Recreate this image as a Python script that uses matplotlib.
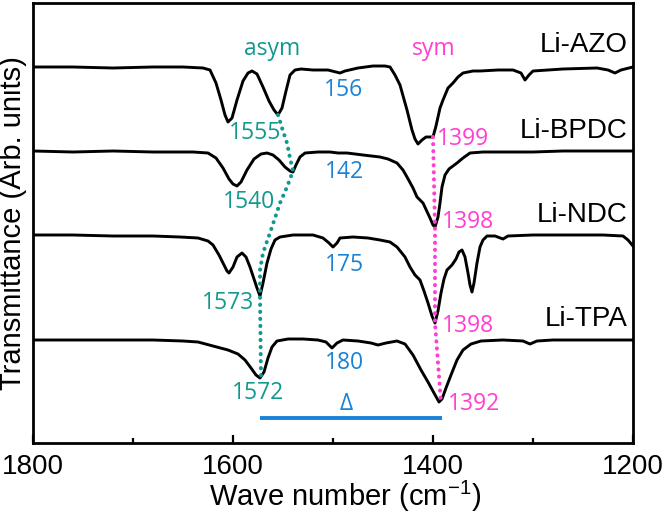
import numpy as np
import matplotlib
matplotlib.use("Agg")
import matplotlib.pyplot as plt
from matplotlib.ticker import FixedLocator

plt.rcParams["font.family"] = "Liberation Sans"
plt.rcParams["mathtext.fontset"] = "custom"
plt.rcParams["mathtext.rm"] = "Liberation Sans"
plt.rcParams["mathtext.default"] = "regular"

# --- spectra (wave number, transmittance in arb. units incl. offset) ---
wn_azo = [1800, 1760, 1720, 1680, 1650, 1630, 1623, 1617, 1612, 1608, 1605, 1601, 1596, 1590,
          1585, 1581, 1576, 1570, 1564, 1559, 1555, 1551, 1547, 1543, 1538, 1532, 1520, 1505,
          1497, 1493, 1488, 1475, 1460, 1448, 1443, 1438, 1433, 1426, 1421, 1418, 1415, 1411,
          1407, 1403, 1400, 1397, 1393, 1390, 1385, 1380, 1375, 1370, 1360, 1353, 1335, 1320,
          1312, 1308, 1304, 1300, 1270, 1236, 1225, 1218, 1212, 1200]
t_azo = [376, 376, 375, 376, 376, 375, 373, 360, 343, 328, 321, 325, 343, 362,
         370, 372, 369, 356, 342, 333, 328, 335, 352, 368, 373, 374, 373, 373,
         371, 370, 372, 375, 377, 377, 376, 368, 358, 333, 313, 304, 299, 303,
         306, 306, 306, 317, 335, 343, 355, 360, 366, 370, 372, 372, 373, 373,
         370, 363, 368, 372, 374, 375, 373, 370, 373, 376]

wn_bpdc = [1800, 1760, 1720, 1680, 1640, 1625, 1617, 1610, 1604, 1600, 1596, 1592, 1586, 1579,
           1572, 1566, 1560, 1554, 1548, 1543, 1540, 1537, 1533, 1528, 1515, 1503, 1495, 1486,
           1470, 1453, 1445, 1436, 1430, 1426, 1420, 1416, 1410, 1403, 1400, 1398, 1395, 1393,
           1391, 1388, 1384, 1376, 1370, 1363, 1350, 1336, 1300, 1270, 1240, 1200]
t_bpdc = [292, 291, 292, 291, 291, 290, 285, 275, 264, 259, 257, 261, 273, 284,
          289, 290, 288, 283, 276, 272, 271, 278, 286, 290, 291, 291, 290, 290,
          288, 286, 284, 280, 273, 266, 255, 246, 240, 225, 218, 216, 226, 240,
          256, 268, 274, 280, 285, 290, 291, 291, 291, 292, 292, 292]

wn_ndc = [1800, 1760, 1720, 1680, 1653, 1635, 1625, 1620, 1614, 1610, 1606, 1604, 1600, 1596,
          1591, 1587, 1583, 1579, 1576, 1573, 1570, 1566, 1562, 1558, 1553, 1540, 1520, 1510,
          1504, 1500, 1496, 1493, 1480, 1465, 1453, 1443, 1436, 1428, 1423, 1418, 1413, 1409,
          1405, 1401, 1398, 1395, 1392, 1389, 1386, 1381, 1377, 1374, 1371, 1368, 1365, 1363,
          1361, 1359, 1356, 1353, 1350, 1346, 1338, 1330, 1325, 1300, 1260, 1230, 1210, 1205, 1200]
t_ndc = [208, 208, 207, 207, 206, 205, 202, 198, 188, 180, 172, 170, 176, 186,
         190, 186, 176, 164, 155, 147, 160, 180, 194, 203, 206, 208, 208, 205,
         200, 196, 200, 205, 206, 205, 203, 201, 196, 186, 176, 168, 163, 152,
         140, 127, 120, 132, 150, 164, 173, 178, 184, 191, 193, 186, 170, 158,
         151, 160, 180, 196, 203, 207, 207, 204, 207, 208, 208, 208, 207, 203, 197]

wn_tpa = [1800, 1760, 1720, 1680, 1650, 1635, 1620, 1605, 1595, 1588, 1582, 1577, 1573, 1569,
          1565, 1561, 1556, 1545, 1530, 1515, 1507, 1501, 1496, 1490, 1475, 1462, 1455, 1447,
          1436, 1428, 1420, 1412, 1405, 1399, 1394, 1391, 1387, 1382, 1376, 1370, 1362, 1352,
          1330, 1310, 1303, 1296, 1280, 1240, 1200]
t_tpa = [103, 103, 103, 103, 102, 101, 97, 93, 89, 83, 75, 68, 65, 71,
         85, 96, 102, 104, 104, 103, 101, 95, 100, 103, 102, 100, 98, 100,
         102, 99, 88, 73, 61, 50, 41, 44, 55, 68, 83, 93, 99, 102,
         103, 102, 99, 102, 103, 103, 103]

names = ["Li-AZO", "Li-BPDC", "Li-NDC", "Li-TPA"]
name_pos = [(1205, 398), (1205, 312), (1205, 228), (1205, 124)]

# peak guides
asym_wn = [1555, 1551, 1546, 1543, 1540, 1546, 1553, 1561, 1570, 1573, 1573, 1572]
asym_t = [328, 315, 300, 285, 272, 256, 240, 216, 190, 173, 147, 65]
sym_wn = [1400, 1398, 1398, 1392]
sym_t = [306, 216, 120, 40]

asym_labels = ["1555", "1540", "1573", "1572"]
asym_lpos = [(1578, 310), (1584, 241), (1605, 140), (1575, 50)]
sym_labels = ["1399", "1398", "1398", "1392"]
sym_lpos = [(1396, 304), (1391, 221), (1391, 117), (1385, 39)]
delta_labels = ["156", "142", "175", "180"]
delta_lpos = [(1489, 353), (1489, 271), (1489, 178), (1489, 80)]
delta_bar = [1573, 1391]

teal = "#12998e"
pink = "#ff3fd2"
blue = "#1a82d6"
ann_font = "Open Sans"
ann_size = 16.5

fig = plt.figure(figsize=(6.66, 5.17), dpi=100)
ax = fig.add_axes([33 / 666, 74 / 517, 600 / 666, 440 / 517])

for wn, t in [(wn_azo, t_azo), (wn_bpdc, t_bpdc), (wn_ndc, t_ndc), (wn_tpa, t_tpa)]:
    ax.plot(wn, t, color="black", lw=2.1, solid_joinstyle="round", zorder=3)

dot = (0, (0.05, 1.7))
ax.plot(asym_wn, asym_t, color=teal, lw=2.9, ls=dot, dash_capstyle="round", zorder=4)
ax.plot(sym_wn, sym_t, color=pink, lw=2.9, ls=dot, dash_capstyle="round", zorder=4)
ax.plot(delta_bar, [25, 25], color=blue, lw=2.8, solid_capstyle="butt")

for name, (x, y) in zip(names, name_pos):
    ax.text(x, y, name, ha="right", va="center", fontsize=20)

ax.text(1561, 388, "asym", color=teal, ha="center", va="baseline", fontsize=ann_size, family=ann_font)
ax.text(1399, 388, "sym", color=pink, ha="center", va="baseline", fontsize=ann_size, family=ann_font)
for s, (x, y) in zip(asym_labels, asym_lpos):
    ax.text(x, y, s, color=teal, ha="center", va="center", fontsize=ann_size, family=ann_font)
for s, (x, y) in zip(sym_labels, sym_lpos):
    ax.text(x, y, s, color=pink, ha="left", va="center", fontsize=ann_size, family=ann_font)
for s, (x, y) in zip(delta_labels, delta_lpos):
    ax.text(x, y, s, color=blue, ha="center", va="center", fontsize=ann_size, family=ann_font)
ax.text(1487, 39, "Δ", color=blue, ha="center", va="center", fontsize=ann_size, family=ann_font)

ax.set_xlim(1800, 1200)
ax.set_ylim(0, 440)
ax.xaxis.set_major_locator(FixedLocator([1800, 1600, 1400, 1200]))
ax.xaxis.set_minor_locator(FixedLocator([1700, 1500, 1300]))
ax.set_yticks([])
ax.tick_params(axis="x", which="major", direction="in", length=6, width=1.6, labelsize=20, pad=8)
ax.tick_params(axis="x", which="minor", direction="in", length=3.5, width=1.6)
for sp in ax.spines.values():
    sp.set_linewidth(2.0)

ax.set_xlabel("Wave number (cm$^{-1}$)", fontsize=21, labelpad=1)
ax.set_ylabel("Transmittance (Arb. units)", fontsize=21, labelpad=4)
ax.xaxis.set_label_coords(0.52, -0.082)

fig.savefig("out.png", dpi=100)
